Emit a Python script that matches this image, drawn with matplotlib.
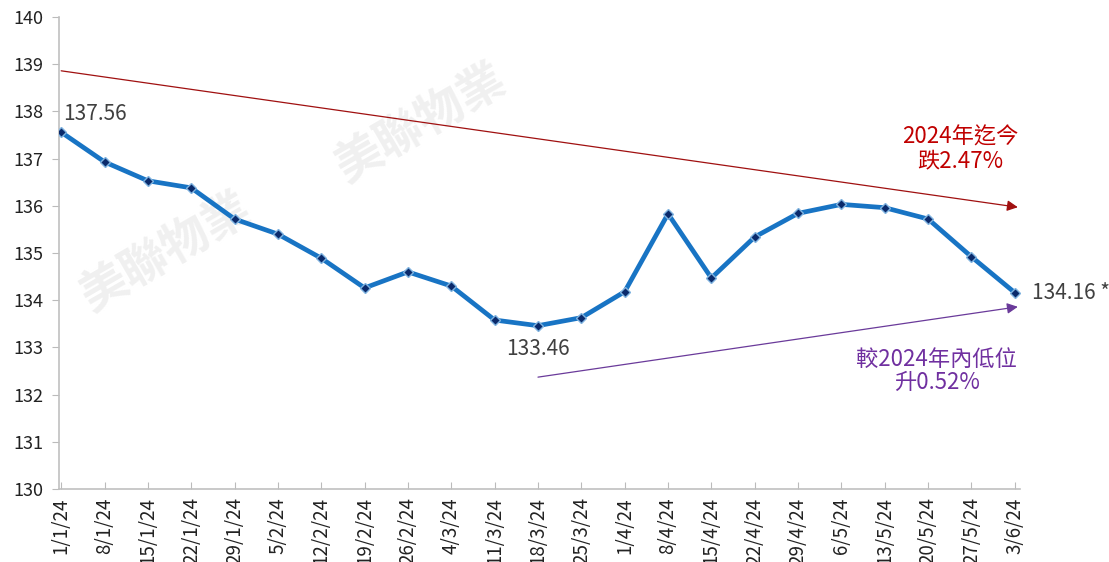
import matplotlib
matplotlib.use("Agg")
import matplotlib.pyplot as plt

plt.rcParams['font.family'] = ['Noto Sans CJK TC', 'DejaVu Sans']

dates = ["1/1/24", "8/1/24", "15/1/24", "22/1/24", "29/1/24", "5/2/24", "12/2/24",
         "19/2/24", "26/2/24", "4/3/24", "11/3/24", "18/3/24", "25/3/24", "1/4/24",
         "8/4/24", "15/4/24", "22/4/24", "29/4/24", "6/5/24", "13/5/24", "20/5/24",
         "27/5/24", "3/6/24"]
values = [137.56, 136.93, 136.53, 136.38, 135.72, 135.40, 134.89,
          134.26, 134.60, 134.30, 133.58, 133.46, 133.63, 134.18,
          135.83, 134.47, 135.34, 135.84, 136.03, 135.96, 135.72,
          134.92, 134.16]

red_trend_y = [138.86, 135.97]
purple_trend_y = [132.37, 133.86]

fig = plt.figure(figsize=(11.09, 5.62), dpi=100)
ax = fig.add_axes([59/1109, 1 - 489/562, (1020 - 59)/1109, (489 - 17)/562])

x = list(range(len(dates)))
ax.plot(x, values, color='#1874C4', lw=3.4, zorder=3, solid_joinstyle='round')
ax.plot(x, values, ls='none', marker='D', ms=5.5, mfc='#0A2A6B', mec='#7FB3E0', mew=1.0, zorder=4)

ax.set_ylim(130, 140)
ax.set_xlim(-0.05, 22.12)
ax.set_yticks(range(130, 141))
ax.set_xticks(x)
ax.set_xticklabels(dates, rotation=90, fontsize=13.5, color='#222222')
ax.tick_params(axis='y', labelsize=13, colors='#222222', length=5, color='#BBBBBB', pad=6)
ax.tick_params(axis='x', length=5, color='#BBBBBB', pad=6, direction='in')
for s in ['top', 'right']:
    ax.spines[s].set_visible(False)
for s in ['left', 'bottom']:
    ax.spines[s].set_color('#C0C0C0')
    ax.spines[s].set_linewidth(1.2)

# trend arrows
last = len(dates) - 1 + 0.07
ax.annotate('', xy=(last, red_trend_y[1]), xytext=(0, red_trend_y[0]),
            arrowprops=dict(arrowstyle='-|>', color='#A01010', lw=0.9,
                            mutation_scale=16, shrinkA=0, shrinkB=0), zorder=2)
ax.annotate('', xy=(last, purple_trend_y[1]), xytext=(11, purple_trend_y[0]),
            arrowprops=dict(arrowstyle='-|>', color='#6A3A9A', lw=0.9,
                            mutation_scale=16, shrinkA=0, shrinkB=0), zorder=2)

# data labels
ax.text(0.05, 137.72, "137.56", fontsize=15, color='#404040', ha='left', va='bottom')
ax.text(11, 133.2, "133.46", fontsize=15, color='#404040', ha='center', va='top')
ax.text(22.4, 134.16, "134.16 *", fontsize=15, color='#404040', ha='left', va='center',
        clip_on=False)

ax.text(20.75, 137.2, "2024年迄今\n跌2.47%", fontsize=16, color='#C00000', ha='center',
        va='center', linespacing=1.05)
ax.text(20.2, 132.5, "較2024年內低位\n升0.52%", fontsize=16, color='#7030A0', ha='center',
        va='center', linespacing=1.05)

# faint watermark (behind the data)
for (wx, wy) in [(0.15, 0.55), (0.38, 0.78)]:
    ax.text(wx, wy, "美聯物業", fontsize=34, color='#F0F0F0', rotation=30,
            ha='center', va='center', fontweight='bold', zorder=0.5,
            transform=fig.transFigure)

fig.savefig("out.png", dpi=100)
